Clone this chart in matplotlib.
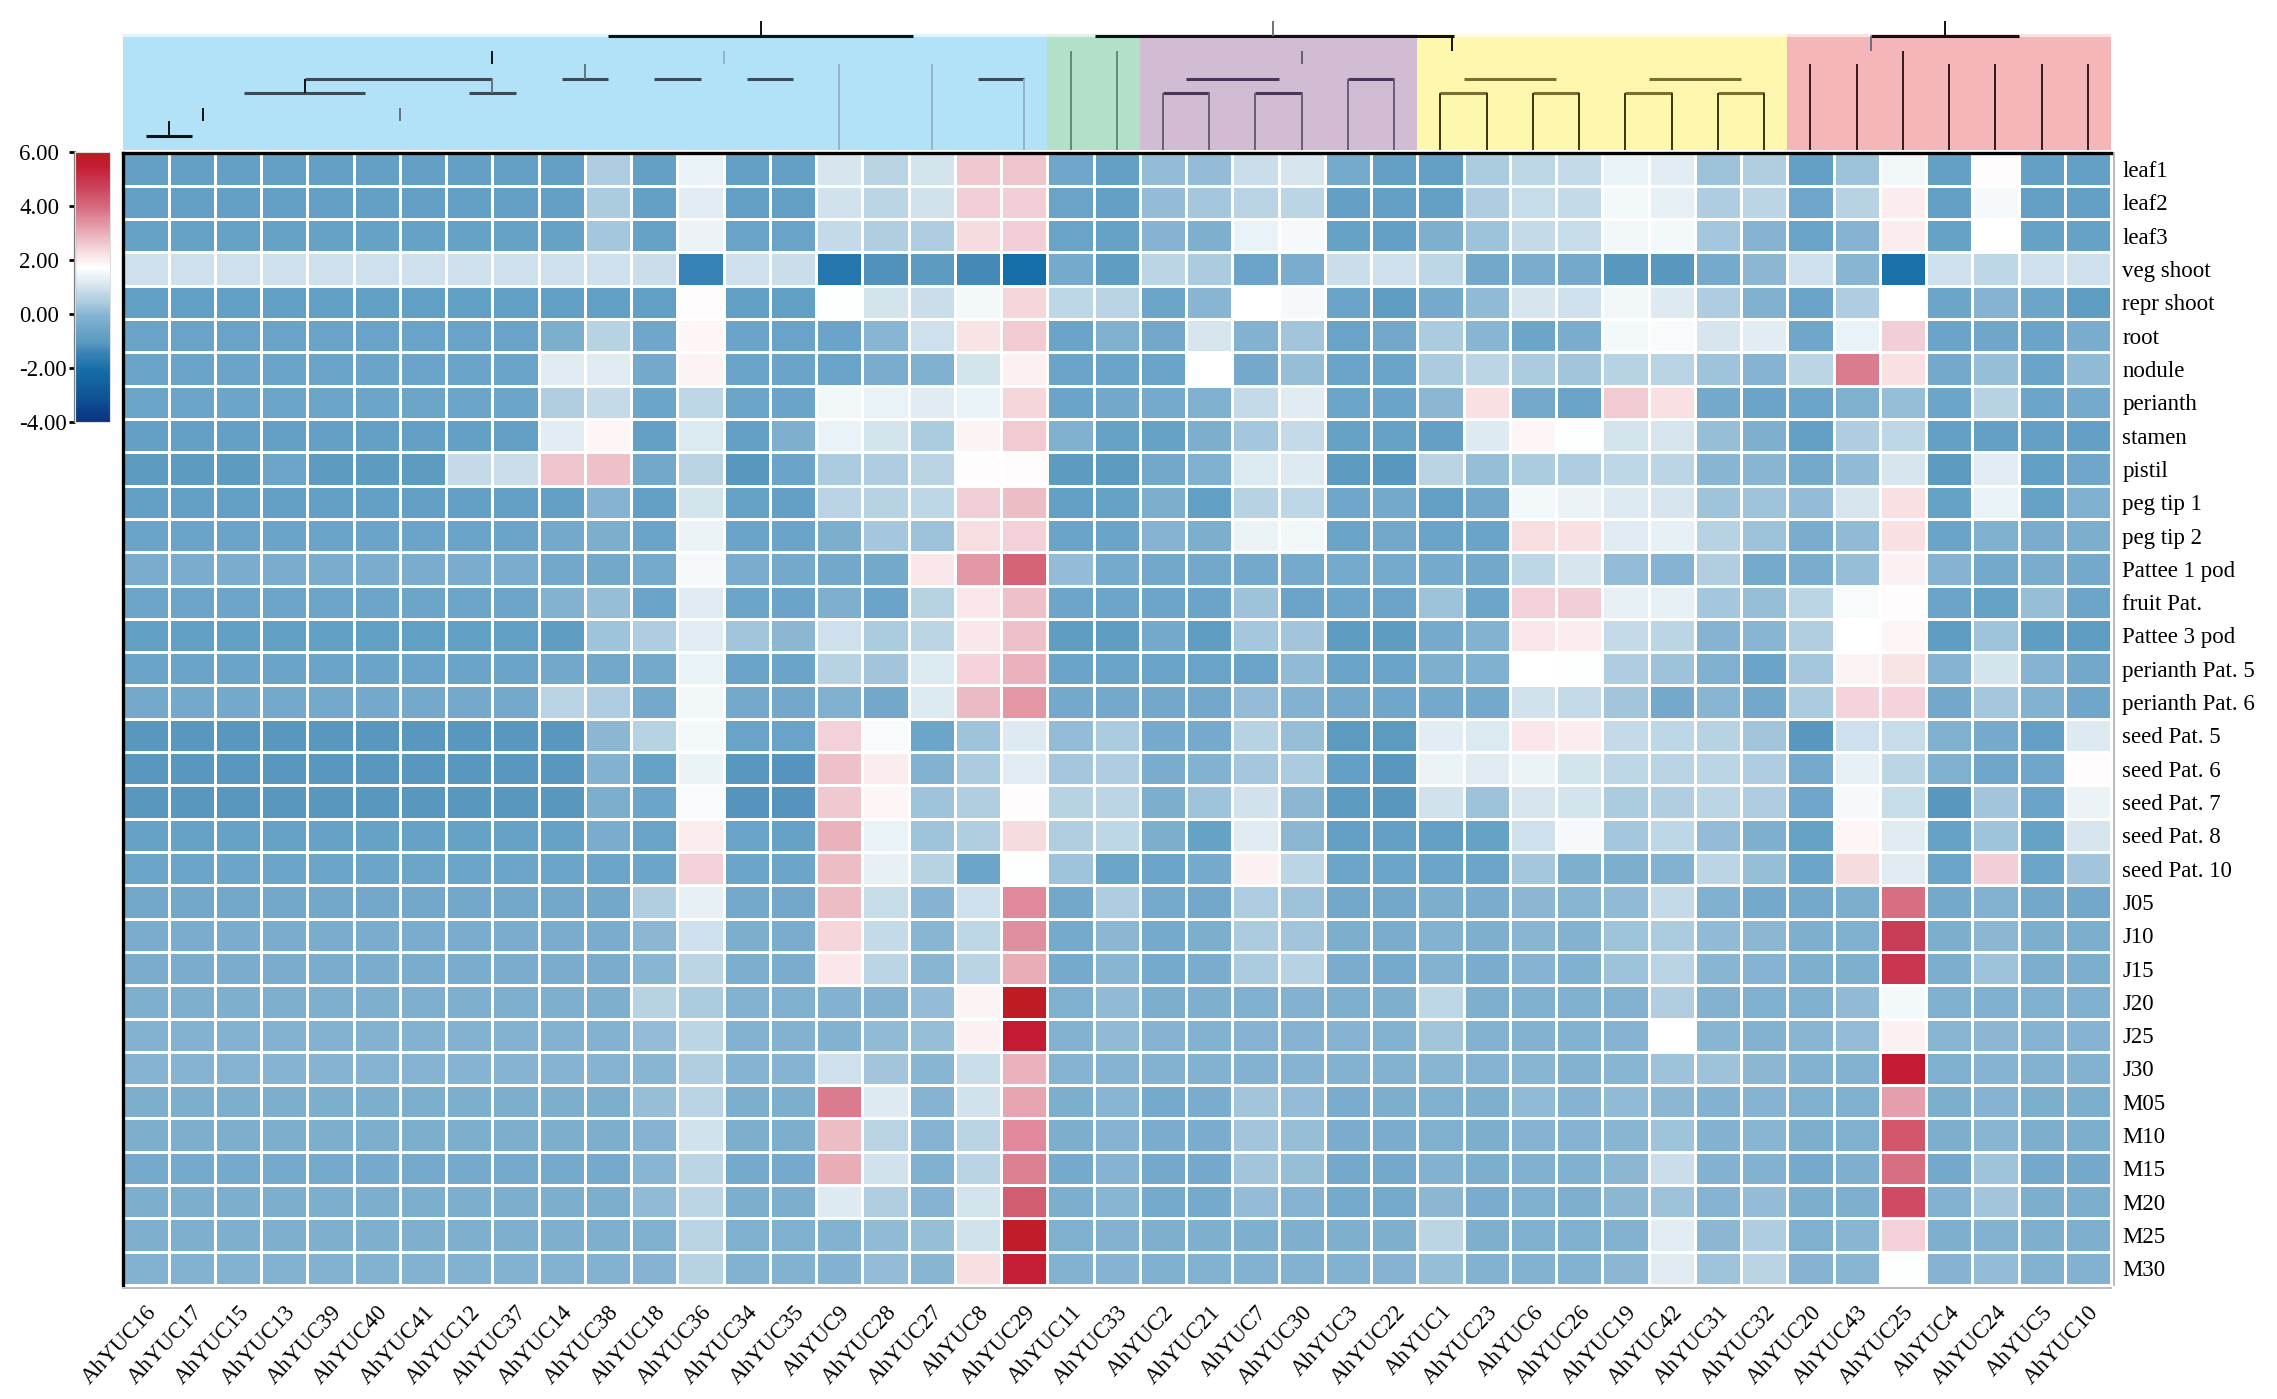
#Heatmap of AhYUC expression with a coloured dendrogram on top

import numpy as np
import matplotlib
matplotlib.use("Agg")
import matplotlib.pyplot as plt
from matplotlib.colors import LinearSegmentedColormap

plt.rcParams['font.family'] = ['Liberation Serif', 'DejaVu Serif']

#Row and column names
tissues = ["leaf1", "leaf2", "leaf3", "veg shoot", "repr shoot", "root", "nodule", "perianth",
           "stamen", "pistil", "peg tip 1", "peg tip 2", "Pattee 1 pod", "fruit Pat.", "Pattee 3 pod",
           "perianth Pat. 5", "perianth Pat. 6", "seed Pat. 5", "seed Pat. 6", "seed Pat. 7",
           "seed Pat. 8", "seed Pat. 10", "J05", "J10", "J15", "J20", "J25", "J30",
           "M05", "M10", "M15", "M20", "M25", "M30"]
genes = ["AhYUC16", "AhYUC17", "AhYUC15", "AhYUC13", "AhYUC39", "AhYUC40", "AhYUC41", "AhYUC12",
         "AhYUC37", "AhYUC14", "AhYUC38", "AhYUC18", "AhYUC36", "AhYUC34", "AhYUC35", "AhYUC9",
         "AhYUC28", "AhYUC27", "AhYUC8", "AhYUC29", "AhYUC11", "AhYUC33", "AhYUC2", "AhYUC21",
         "AhYUC7", "AhYUC30", "AhYUC3", "AhYUC22", "AhYUC1", "AhYUC23", "AhYUC6", "AhYUC26",
         "AhYUC19", "AhYUC42", "AhYUC31", "AhYUC32", "AhYUC20", "AhYUC43", "AhYUC25", "AhYUC4",
         "AhYUC24", "AhYUC5", "AhYUC10"]

#Values, one list per tissue
leaf1 = [-.7,-.7,-.7,-.7,-.7,-.7,-.7,-.7,-.7,-.7,.55,-.7,1.45,-.7,-.7,1.15,.7,1.1,2.7,2.75,-.45,-.7,.2,.2,.95,1.15,-.3,-.7,-.7,.5,.8,.85,1.45,1.35,.3,.6,-.7,.3,1.55,-.7,1.85,-.7,-.7]
leaf2 = [-.7,-.7,-.7,-.7,-.7,-.7,-.7,-.7,-.7,-.7,.5,-.7,1.35,-.7,-.7,1.05,.75,1.05,2.6,2.6,-.6,-.7,.2,.45,.7,.75,-.7,-.7,-.7,.55,.9,.85,1.6,1.4,.55,.75,-.45,.65,2.1,-.7,1.65,-.7,-.7]
leaf3 = [-.65,-.65,-.65,-.65,-.65,-.65,-.65,-.65,-.65,-.65,.45,-.65,1.5,-.6,-.6,.85,.6,.55,2.4,2.6,-.6,-.65,0,-.15,1.45,1.65,-.65,-.7,-.15,.3,.85,.9,1.55,1.6,.45,0,-.6,0,2.1,-.65,1.8,-.65,-.65]
veg_shoot = [1,1,1,1,1,1,1,1,1,1,1,.95,-1.4,1,.95,-1.75,-1.1,-.9,-1.25,-2,-.3,-.8,.75,.5,-.55,-.25,.95,1,.8,-.4,-.25,-.35,-1,-1,-.3,.1,1,.05,-1.9,1,.8,1,1]
repr_shoot = [-.75,-.75,-.75,-.75,-.75,-.75,-.75,-.75,-.75,-.75,-.75,-.75,1.85,-.75,-.75,1.75,1.1,.95,1.6,2.45,.8,.7,-.5,.05,1.8,1.65,-.55,-.8,-.3,.15,1.15,1,1.55,1.25,.55,-.1,-.55,.55,1.8,-.5,0,-.5,-.8]
root = [-.6,-.6,-.6,-.6,-.6,-.6,-.6,-.6,-.6,-.2,.65,-.45,1.95,-.55,-.6,-.55,.05,1,2.25,2.65,-.55,-.1,-.4,1.15,-.05,.4,-.6,-.4,.5,.05,-.5,-.25,1.6,1.7,1.15,1.35,-.45,1.45,2.6,-.55,-.45,-.55,-.25]
nodule = [-.55,-.55,-.55,-.55,-.55,-.55,-.55,-.55,-.55,1.3,1.3,-.35,2,-.55,-.55,-.6,-.25,-.1,1.1,2.05,-.55,-.55,-.6,1.8,-.35,.25,-.55,-.55,.5,.75,.5,.4,.65,.7,.35,0,.75,3.8,2.3,-.35,.25,-.55,.15]
perianth = [-.5,-.5,-.5,-.5,-.5,-.5,-.5,-.5,-.5,.6,.85,-.5,.8,-.5,-.55,1.55,1.45,1.3,1.45,2.45,-.55,-.4,-.3,-.1,.85,1.3,-.5,-.55,.1,2.3,-.35,-.55,2.65,2.3,-.35,-.55,-.5,-.1,.25,-.5,.65,-.5,-.3]
stamen = [-.7,-.7,-.7,-.7,-.7,-.7,-.7,-.7,-.7,1.35,1.95,-.7,1.2,-.7,-.15,1.45,1.1,.5,2,2.65,-.1,-.65,-.65,-.2,.45,.85,-.65,-.65,-.7,1.25,1.95,1.75,1.1,1.15,.25,-.15,-.7,.55,.8,-.7,-.7,-.7,-.7]
pistil = [-.9,-.9,-.9,-.5,-.9,-.9,-.9,.85,.95,2.75,2.8,-.4,.7,-1,-.55,.5,.55,.7,1.85,1.85,-.9,-.95,-.4,-.1,1.2,1.25,-.95,-1,.7,.25,.5,.55,.8,.75,.05,.05,-.35,.15,1.15,-.95,1.35,-.75,-.45]
peg_tip_1 = [-.7,-.7,-.7,-.7,-.7,-.7,-.7,-.7,-.7,-.7,0,-.7,1.1,-.65,-.7,.7,.65,.8,2.6,2.85,-.7,-.65,-.2,-.75,.65,.8,-.45,-.35,-.7,-.4,1.6,1.5,1.25,1.15,.35,.35,.2,1.15,2.3,-.65,1.45,-.65,-.1]
peg_tip_2 = [-.55,-.55,-.55,-.55,-.55,-.55,-.55,-.55,-.55,-.35,-.2,-.55,1.5,-.55,-.55,-.2,.45,.3,2.35,2.55,-.55,-.55,0,-.2,1.5,1.55,-.55,-.4,-.55,-.55,2.35,2.3,1.3,1.4,.65,.3,-.25,.15,2.3,-.55,-.1,-.25,-.2]
pattee_1 = [-.25,-.25,-.25,-.25,-.25,-.25,-.25,-.25,-.25,-.4,-.4,-.3,1.65,-.25,-.35,-.4,-.35,2.2,3.4,4.2,.2,-.3,-.4,-.4,-.35,-.3,-.3,-.3,-.3,-.4,.8,1.15,.2,0,.6,-.3,-.25,.25,2.05,0,-.35,-.25,-.35]
fruit_pat = [-.5,-.5,-.5,-.5,-.5,-.5,-.5,-.5,-.5,-.05,.25,-.55,1.3,-.5,-.55,-.15,-.55,.65,2.2,2.8,-.5,-.5,-.5,-.55,.3,-.55,-.5,-.55,.3,-.5,2.55,2.6,1.4,1.4,.45,.25,.75,1.7,1.85,-.55,-.65,.25,-.5]
pattee_3 = [-.75,-.75,-.75,-.75,-.75,-.75,-.75,-.75,-.75,-.8,.35,.55,1.35,.4,.1,1,.5,.75,2.2,2.8,-.8,-.8,-.35,-.8,.45,.4,-.85,-.85,-.3,-.05,2.2,2.1,.85,.75,0,.05,.6,1.8,1.95,-.8,.35,-.8,-.8]
perianth_5 = [-.55,-.55,-.55,-.55,-.55,-.55,-.55,-.55,-.55,-.4,-.4,-.35,1.45,-.55,-.55,.65,.4,1.2,2.5,3,-.55,-.6,-.6,-.6,-.6,.15,-.6,-.6,-.15,-.1,1.8,1.75,.55,.3,-.1,-.55,.45,2,2.25,0,1.1,0,-.4]
perianth_6 = [-.35,-.35,-.35,-.35,-.35,-.35,-.35,-.35,-.35,.7,.55,-.35,1.55,-.35,-.4,-.1,-.4,1.2,2.9,3.4,-.35,-.35,-.4,-.4,.2,-.05,-.35,-.45,-.35,-.35,1.05,.85,.4,-.35,.05,-.4,.5,2.5,2.5,-.4,.45,-.05,-.45]
seed_5 = [-1,-1,-1,-1,-1,-1,-1,-1,-1,-1,.1,.65,1.6,-.6,-.6,2.55,1.7,-.5,.35,1.25,.2,.5,-.3,-.3,.65,.25,-.95,-.95,1.35,1.2,2.2,2.1,.85,.8,.65,.4,-1,1,.9,-.1,-.3,-.7,1.25]
seed_6 = [-1,-1,-1,-1,-1,-1,-1,-1,-1,-1,-.05,-.65,1.5,-1,-1.05,2.8,2.1,-.05,.5,1.35,.45,.55,-.25,-.05,.45,.5,-.7,-1,1.5,1.3,1.5,1.1,.8,.7,.75,.55,-.3,1.4,.75,-.1,-.45,-.45,1.85]
seed_7 = [-1,-1,-1,-1,-1,-1,-1,-1,-1,-1,-.2,-.5,1.7,-1.05,-1.05,2.7,1.95,.35,.6,1.85,.65,.75,-.2,.35,1.05,.1,-.95,-1,1.05,.3,1.15,1.1,.5,.6,.75,.55,-.45,1.65,.9,-1,.4,-.6,1.5]
seed_8 = [-.65,-.65,-.65,-.65,-.65,-.65,-.65,-.65,-.65,-.65,-.25,-.6,2.1,-.6,-.65,3,1.45,.35,.6,2.4,.6,.8,-.2,-.65,1.3,.1,-.7,-.7,-.7,-.65,1,1.65,.45,.8,.2,-.15,-.65,1.95,1.3,-.65,.35,-.65,1.15]
seed_10 = [-.5,-.5,-.5,-.5,-.5,-.5,-.5,-.5,-.5,-.5,-.5,-.5,2.55,-.5,-.5,2.85,1.4,.65,-.5,1.75,.35,-.5,-.5,-.3,2.05,.75,-.5,-.5,-.5,-.5,.45,-.15,-.2,-.05,.75,.25,-.5,2.4,1.3,-.5,2.6,-.5,.4]
j05 = [-.4,-.4,-.4,-.4,-.4,-.4,-.4,-.4,-.4,-.4,-.4,.6,1.4,-.35,-.4,2.85,.9,0,1,3.6,-.4,.55,-.3,-.4,.55,.3,-.4,-.4,-.2,-.25,.1,.05,.15,.85,-.1,-.35,-.35,-.2,4,-.35,-.05,-.4,-.4]
j10 = [-.25,-.25,-.25,-.25,-.25,-.25,-.25,-.25,-.25,-.25,-.25,.1,1,-.2,-.25,2.45,.85,.05,.8,3.5,-.3,.1,-.3,-.2,.5,.4,-.2,-.25,-.05,-.15,.05,-.05,.35,.5,.15,.1,-.15,-.1,4.9,-.2,.1,-.2,-.2]
j15 = [-.25,-.25,-.25,-.25,-.25,-.25,-.25,-.25,-.25,-.25,-.25,.05,.75,-.2,-.25,2.2,.75,.05,.7,3.1,-.3,.05,-.3,-.25,.5,.65,-.25,-.3,-.05,-.25,0,-.1,.3,.7,.05,0,-.15,-.15,5,-.2,.3,-.2,-.2]
j20 = [-.15,-.15,-.15,-.15,-.15,-.15,-.15,-.15,-.15,-.15,-.15,.65,.5,-.05,-.1,-.05,-.05,.2,2,5.85,-.1,.15,-.2,-.15,-.1,-.05,-.15,-.15,.8,-.15,-.1,-.1,-.05,.6,-.05,-.1,-.1,.15,1.6,-.1,-.1,-.1,-.1]
j25 = [-.05,-.05,-.05,-.05,-.05,-.05,-.05,-.05,-.05,-.05,-.05,.2,.75,-.05,-.05,-.05,.15,.25,2.05,5.6,-.05,.15,0,-.05,0,0,0,-.05,.4,-.05,-.05,-.05,0,1.8,.05,-.05,.05,.2,2.05,.05,.1,0,0]
j30 = [0,0,0,0,0,0,0,0,0,0,0,.05,.6,0,0,1,.4,.05,.95,3,0,0,-.05,-.05,-.05,0,-.05,-.05,.05,0,.05,-.05,.05,.3,.3,.1,-.05,-.05,5.6,-.1,0,-.05,-.05]
m05 = [-.2,-.2,-.2,-.2,-.2,-.2,-.2,-.2,-.2,-.2,-.2,.25,.7,-.2,-.2,3.8,1.25,0,1.05,3.2,-.2,.05,-.3,-.25,.4,.2,-.25,-.2,-.1,-.15,.15,0,.15,.1,-.05,0,-.1,-.1,3.3,-.2,0,-.2,-.2]
m10 = [-.2,-.2,-.2,-.2,-.2,-.2,-.2,-.2,-.2,-.2,-.2,0,1.05,-.2,-.2,2.85,.7,0,.7,3.6,-.2,0,-.25,-.25,.4,.25,-.25,-.25,-.1,-.2,0,0,.05,.35,-.05,.05,-.2,-.1,4.4,-.2,.05,-.2,-.2]
m15 = [-.3,-.3,-.3,-.3,-.3,-.3,-.3,-.3,-.3,-.3,-.3,.05,.75,-.3,-.3,3.1,1.05,-.1,.7,3.7,-.3,0,-.35,-.35,.4,.25,-.35,-.35,-.05,-.2,-.1,-.1,.1,.95,-.05,-.05,-.3,-.15,4,-.35,.35,-.35,-.35]
m20 = [-.2,-.2,-.2,-.2,-.2,-.2,-.2,-.2,-.2,-.2,-.2,.15,.75,-.2,-.2,1.25,.6,0,1.1,4.3,-.2,.05,-.3,-.3,.2,0,-.3,-.3,.1,-.25,-.1,-.15,.1,.3,0,.2,-.2,-.15,4.6,-.05,.4,-.2,-.2]
m25 = [-.15,-.15,-.15,-.15,-.15,-.15,-.15,-.15,-.15,-.15,-.15,-.1,.7,-.1,-.1,-.05,.15,.25,1.05,5.7,-.1,-.05,-.15,-.15,-.15,-.15,-.15,-.15,.75,-.15,-.1,-.1,-.05,1.35,.1,.55,-.1,.05,2.55,-.15,-.05,-.15,-.15]
m30 = [-.05,-.05,-.05,-.05,-.05,-.05,-.05,-.05,-.05,-.05,-.05,0,.65,-.05,-.05,-.05,.2,.05,2.35,5.5,-.05,0,-.1,-.05,-.05,-.05,-.05,0,.25,-.05,-.05,-.05,.1,1.3,.35,.7,0,.05,1.75,0,.2,-.05,-.05]

values = np.array([leaf1, leaf2, leaf3, veg_shoot, repr_shoot, root, nodule, perianth, stamen, pistil,
                   peg_tip_1, peg_tip_2, pattee_1, fruit_pat, pattee_3, perianth_5, perianth_6,
                   seed_5, seed_6, seed_7, seed_8, seed_10, j05, j10, j15, j20, j25, j30,
                   m05, m10, m15, m20, m25, m30])

#Cluster bands: first column, last column + 1
band_edges = [0, 20, 22, 28, 36, 43]
band_colors = ["#b2e2f8", "#b2e0c8", "#d2bcd4", "#fef8af", "#f4b6b8"]

#Dendrogram pieces that survive in the picture
#horizontal: left column, right column, height
tree_h_black = [(10.5, 17.1, 114), (21.03, 28.8, 114), (37.8, 41.0, 114), (0.5, 1.5, 14)]
tree_h_dark = [(3.94, 8.0, 71), (2.62, 5.24, 57), (7.5, 8.5, 57), (9.5, 10.5, 71), (11.5, 12.5, 71),
               (13.5, 14.5, 71), (18.5, 19.5, 71)]
tree_h_purple = [(23.0, 25.0, 71), (26.5, 27.5, 71), (22.5, 23.5, 57), (24.5, 25.5, 57)]
tree_h_olive = [(29.0, 31.0, 71), (33.0, 35.0, 71), (28.5, 29.5, 57), (30.5, 31.5, 57),
                (32.5, 33.5, 57), (34.5, 35.5, 57)]
#vertical: column, low height, high height
tree_v_black = [(13.8, 114, 129), (28.75, 99, 114), (39.4, 114, 129), (8.0, 86, 99), (3.94, 57, 71),
                (1.75, 29, 42), (1.0, 14, 29)]
tree_v_gray = [(24.88, 114, 129), (37.8, 99, 114), (8.0, 57, 71), (6.0, 29, 42), (10.0, 71, 86)]
tree_v_light = [(13.0, 86, 99), (15.5, 0, 86), (17.5, 0, 86), (19.5, 0, 71)]
tree_v_green = [(20.5, 0, 99), (21.5, 0, 99)]
tree_v_purple = [(25.5, 86, 99), (22.5, 0, 57), (23.5, 0, 57), (24.5, 0, 57), (25.5, 0, 57),
                 (26.5, 0, 71), (27.5, 0, 71)]
tree_v_olive = [(28.5, 0, 57), (29.5, 0, 57), (30.5, 0, 57), (31.5, 0, 57), (32.5, 0, 57),
                (33.5, 0, 57), (34.5, 0, 57), (35.5, 0, 57)]
tree_v_red = [(36.5, 0, 86), (37.5, 0, 86), (38.5, 0, 99), (39.5, 0, 86), (40.5, 0, 86),
              (41.5, 0, 86), (42.5, 0, 86)]

#Colour scale
cmap_values = [-4, -3, -2, -1.3, -1, -0.7, 0, 0.6, 1.2, 1.8, 2.3, 2.7, 3.5, 4, 5, 5.6, 6]
cmap_colors = ["#08307d", "#105596", "#166ea8", "#3f87b7", "#5a98bf", "#64a0c5", "#85b3d1", "#b2cfe1", "#dae8f0",
               "#ffffff", "#f8e1e4", "#f0c8d0", "#e191a0", "#d76e82", "#c83750", "#c31c32", "#bc1c20"]
cbar_ticks = [-4, -2, 0, 2, 4, 6]

W, H = 2277, 1399
def box(x0, y0, x1, y1):
    #pixel box to figure fractions
    return [x0/W, 1-y1/H, (x1-x0)/W, (y1-y0)/H]

cmap = LinearSegmentedColormap.from_list(
    "expr", [((v+4)/10, c) for v, c in zip(cmap_values, cmap_colors)])

fig = plt.figure(figsize=(W/100, H/100), dpi=100)

#Heatmap
ax = fig.add_axes(box(122.5, 152.5, 2111, 1285))
mesh = ax.pcolormesh(values, cmap=cmap, vmin=-4, vmax=6, edgecolors='white', linewidth=2.1)
ax.set_xlim(0, len(genes))
ax.set_ylim(len(tissues), 0)
ax.yaxis.tick_right()
ax.tick_params(axis='x', length=0, pad=10)
ax.tick_params(axis='y', length=0, pad=6)
ax.set_xticks(np.arange(len(genes))+0.5, labels=genes)
ax.set_yticks(np.arange(len(tissues))+0.5, labels=tissues)
for side, col, lw in [('top', 'black', 2.4), ('left', 'black', 2.4), ('right', '#bbbbbb', 1.4), ('bottom', '#bbbbbb', 1.4)]:
    ax.spines[side].set_color(col)
    ax.spines[side].set_linewidth(lw)
ax.spines['right'].set_position(('outward', 2))
ax.spines['bottom'].set_position(('outward', 2))

#Dendrogram
tree = fig.add_axes(box(122.5, 34, 2111, 150))
tree.set_xlim(0, len(genes))
tree.set_ylim(0, 116)
tree.axis('off')
for i, c in enumerate(band_colors):
    tree.axvspan(band_edges[i], band_edges[i+1], color=c, lw=0)
tree.axhspan(113, 116, color='white', alpha=0.6, lw=0)
for segs, c in [(tree_h_black, '#111111'), (tree_h_dark, '#3a4a58'), (tree_h_purple, '#4a3558'), (tree_h_olive, '#77702f')]:
    for x0, x1, y in segs:
        tree.plot([x0, x1], [y, y], color=c, lw=2.2, solid_capstyle='butt')
for segs, c in [(tree_v_black, '#111111'), (tree_v_gray, '#66747f'), (tree_v_light, '#92b4c8'),
                (tree_v_green, '#5f8c73'), (tree_v_purple, '#6f5a7c'), (tree_v_olive, '#3a3410'), (tree_v_red, '#33181a')]:
    for x, y0, y1 in segs:
        tree.plot([x, x], [y0, y1], color=c, lw=1.4, solid_capstyle='butt', clip_on=False)

#Colour bar
cax = fig.add_axes(box(75, 152, 110, 422))
cbar = fig.colorbar(mesh, cax=cax)
cbar.solids.set_edgecolor('face')
cbar.set_ticks(cbar_ticks)
cbar.set_ticklabels(["%.2f" % t for t in cbar_ticks])
cax.yaxis.set_ticks_position('left')
cax.tick_params(length=4, width=2, color='black', pad=36, labelsize=16.5)
for lab in cax.get_yticklabels():
    lab.set_horizontalalignment('left')
cbar.outline.set_edgecolor('#dddddd')
cbar.outline.set_linewidth(0.8)
cax.spines['left'].set_visible(True)
cax.spines['left'].set_color('#777777')
cax.spines['left'].set_linewidth(1.6)

#Tick text last, the colour bar call above resets it otherwise
for lab in ax.get_xticklabels():
    lab.set(rotation=47, ha='right', va='top', rotation_mode='anchor', fontsize=16.5)
for lab in ax.get_yticklabels():
    lab.set(fontsize=16.5)

fig.savefig("out.png", dpi=100)
